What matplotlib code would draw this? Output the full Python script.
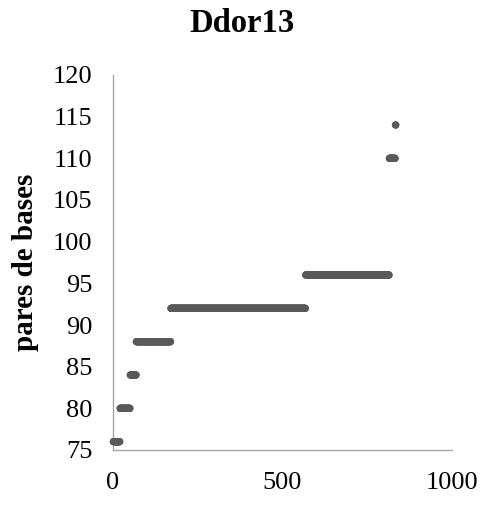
import numpy as np
import matplotlib
matplotlib.use("Agg")
import matplotlib.pyplot as plt

# Allele sizes (bp) and number of samples carrying each, in sorted order
allele_sizes = [76, 80, 84, 88, 92, 96, 110, 114]
allele_counts = [20, 30, 18, 102, 398, 247, 18, 2]

x_ticks = [0, 500, 1000]
y_ticks = [75, 80, 85, 90, 95, 100, 105, 110, 115, 120]

y = np.repeat(allele_sizes, allele_counts)
x = np.arange(1, len(y) + 1)

plt.rcParams["font.family"] = ["Liberation Serif", "DejaVu Serif"]

fig = plt.figure(figsize=(4.9, 5.08), dpi=100)
ax = fig.add_axes([113 / 490, 58 / 508, 338.7 / 490, 375 / 508])

ax.scatter(x, y, s=28, color="#595959", edgecolors="none", zorder=3, clip_on=False)

ax.set_xlim(0, 1000)
ax.set_ylim(75, 120)
ax.set_xticks(x_ticks)
ax.set_yticks(y_ticks)
ax.tick_params(axis="both", length=0, labelsize=19, colors="black")
ax.tick_params(axis="x", pad=16)
ax.tick_params(axis="y", pad=15)

for side in ("top", "right"):
    ax.spines[side].set_visible(False)
for side in ("left", "bottom"):
    ax.spines[side].set_color("#a6a6a6")
    ax.spines[side].set_linewidth(1.0)

ax.set_ylabel("pares de bases", fontsize=21, fontweight="bold", labelpad=10)
fig.text(241.5 / 490, 1 - 24 / 508, "Ddor13", fontsize=23.5, fontweight="bold",
         ha="center", va="center")

fig.savefig("out.png", dpi=100)
